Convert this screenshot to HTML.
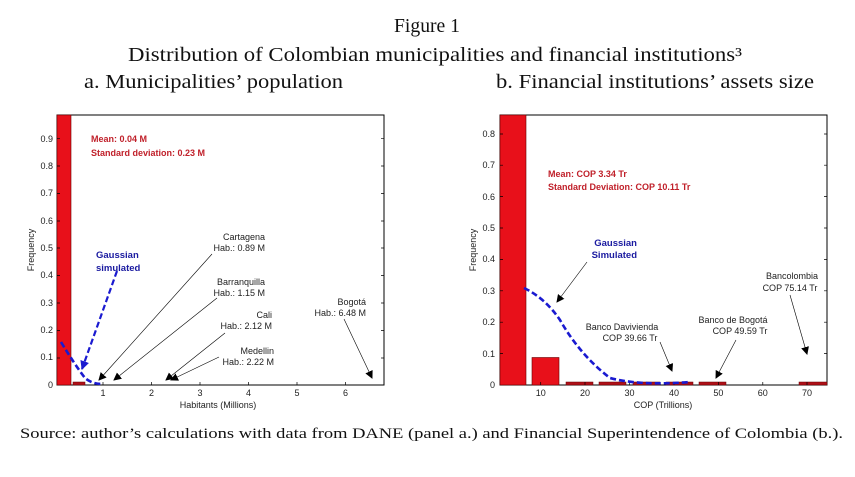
<!DOCTYPE html>
<html><head><meta charset="utf-8"><style>
html,body{margin:0;padding:0;background:#fff;}
svg{display:block;}
.t{font-family:"Liberation Serif",serif;fill:#111;}
.a{font-family:"Liberation Sans",sans-serif;font-size:9px;fill:#222;}
.r{font-family:"Liberation Sans",sans-serif;font-size:9px;font-weight:bold;fill:#c0202a;}
.b{font-family:"Liberation Sans",sans-serif;font-size:9.5px;font-weight:bold;fill:#1a1aa0;}
</style></head><body>
<svg width="855" height="477" viewBox="0 0 855 477" xmlns="http://www.w3.org/2000/svg">
<defs><marker id="ar" markerWidth="8" markerHeight="8" refX="7" refY="4" orient="auto" markerUnits="userSpaceOnUse"><path d="M0,0 L8,4 L0,8 Z" fill="#000"/></marker>
<marker id="ab" markerWidth="9" markerHeight="9" refX="8" refY="4.5" orient="auto" markerUnits="userSpaceOnUse"><path d="M0,0 L9,4.5 L0,9 Z" fill="#1a1ad0"/></marker></defs>
<text class="t" x="427" y="32" font-size="20" text-anchor="middle" textLength="66" lengthAdjust="spacingAndGlyphs">Figure 1</text>
<text class="t" x="128" y="61" font-size="20" textLength="614" lengthAdjust="spacingAndGlyphs">Distribution of Colombian municipalities and financial institutions³</text>
<text class="t" x="84" y="88" font-size="20" textLength="259" lengthAdjust="spacingAndGlyphs">a. Municipalities’ population</text>
<text class="t" x="496" y="88" font-size="20" textLength="318" lengthAdjust="spacingAndGlyphs">b. Financial institutions’ assets size</text>
<text class="t" x="20" y="438" font-size="15" textLength="823" lengthAdjust="spacingAndGlyphs">Source: author’s calculations with data from DANE (panel a.) and Financial Superintendence of Colombia (b.).</text>

<!-- Left panel -->
<g>
<rect x="57" y="115" width="327" height="270" fill="#fff" stroke="#000" stroke-width="1"/>
<rect x="57" y="115" width="14" height="270" fill="#e8101a" stroke="#600" stroke-width="0.6"/>
<rect x="73" y="382" width="12" height="3" fill="#b01018" stroke="#600" stroke-width="0.5"/>
<g class="a" text-anchor="end">
<text x="53" y="388">0</text><text x="53" y="360">0.1</text><text x="53" y="333">0.2</text><text x="53" y="306">0.3</text><text x="53" y="278">0.4</text><text x="53" y="251">0.5</text><text x="53" y="224">0.6</text><text x="53" y="196">0.7</text><text x="53" y="169">0.8</text><text x="53" y="142">0.9</text>
</g>
<g stroke="#000" stroke-width="0.7">
<path d="M57 358h3M57 330.5h3M57 303h3M57 275.5h3M57 248h3M57 221h3M57 193.5h3M57 166h3M57 138.7h3"/>
<path d="M384 358h-3M384 330.5h-3M384 303h-3M384 275.5h-3M384 248h-3M384 221h-3M384 193.5h-3M384 166h-3M384 138.7h-3"/>
<path d="M103 385v-3M151.5 385v-3M200 385v-3M248.5 385v-3M297 385v-3M345.5 385v-3"/>
</g>
<g class="a" text-anchor="middle">
<text x="103" y="396">1</text><text x="151.5" y="396">2</text><text x="200" y="396">3</text><text x="248.5" y="396">4</text><text x="297" y="396">5</text><text x="345.5" y="396">6</text>
<text x="218" y="408">Habitants (Millions)</text>
</g>
<text class="a" transform="translate(34,250) rotate(-90)" text-anchor="middle">Frequency</text>
<text class="r" x="91" y="142">Mean: 0.04 M</text>
<text class="r" x="91" y="156">Standard deviation: 0.23 M</text>
<path d="M61 342 Q75 365 85 378 Q92 384 102 384" fill="none" stroke="#1a1ad0" stroke-width="2.6" stroke-dasharray="6,3"/>
<path d="M117 271 L82 369" fill="none" stroke="#1a1ad0" stroke-width="2.2" stroke-dasharray="6,3" marker-end="url(#ab)"/>
<text class="b" x="96" y="258">Gaussian</text><text class="b" x="96" y="271">simulated</text>
<g class="a" text-anchor="end">
<text x="265" y="240">Cartagena</text><text x="265" y="251">Hab.: 0.89 M</text>
<text x="265" y="285">Barranquilla</text><text x="265" y="296">Hab.: 1.15 M</text>
<text x="272" y="318">Cali</text><text x="272" y="329">Hab.: 2.12 M</text>
<text x="274" y="354">Medellin</text><text x="274" y="365">Hab.: 2.22 M</text>
<text x="366" y="305">Bogotá</text><text x="366" y="316">Hab.: 6.48 M</text>
</g>
<g stroke="#000" stroke-width="0.6" fill="none">
<path d="M212 254 L99 380" marker-end="url(#ar)"/>
<path d="M217 298 L114 380" marker-end="url(#ar)"/>
<path d="M225 333 L166 380" marker-end="url(#ar)"/>
<path d="M219 357 L171 380" marker-end="url(#ar)"/>
<path d="M344 319 L372 378" marker-end="url(#ar)"/>
</g>
</g>

<!-- Right panel -->
<g>
<rect x="500" y="115" width="327" height="270" fill="#fff" stroke="#000" stroke-width="1"/>
<rect x="500" y="115" width="26" height="270" fill="#e8101a" stroke="#600" stroke-width="0.6"/>
<rect x="532" y="357.5" width="27" height="27.5" fill="#e8101a" stroke="#600" stroke-width="0.6"/>
<g fill="#b01018" stroke="#600" stroke-width="0.5">
<rect x="566" y="382" width="27" height="3"/><rect x="599" y="382" width="27" height="3"/><rect x="633" y="382" width="27" height="3"/><rect x="666" y="382" width="27" height="3"/><rect x="699" y="382" width="27" height="3"/><rect x="799" y="382" width="28" height="3"/>
</g>
<g class="a" text-anchor="end">
<text x="495" y="388">0</text><text x="495" y="357">0.1</text><text x="495" y="325">0.2</text><text x="495" y="294">0.3</text><text x="495" y="262">0.4</text><text x="495" y="231">0.5</text><text x="495" y="200">0.6</text><text x="495" y="168">0.7</text><text x="495" y="137">0.8</text>
</g>
<g stroke="#000" stroke-width="0.7">
<path d="M500 353.6h3M500 322.2h3M500 290.8h3M500 259.4h3M500 228h3M500 196.6h3M500 165.2h3M500 134h3"/>
<path d="M827 353.6h-3M827 322.2h-3M827 290.8h-3M827 259.4h-3M827 228h-3M827 196.6h-3M827 165.2h-3M827 134h-3"/>
<path d="M540.7 385v-3M585 385v-3M629.5 385v-3M674 385v-3M718.4 385v-3M762.8 385v-3M807 385v-3"/>
</g>
<g class="a" text-anchor="middle">
<text x="540.7" y="396">10</text><text x="585" y="396">20</text><text x="629.5" y="396">30</text><text x="674" y="396">40</text><text x="718.4" y="396">50</text><text x="762.8" y="396">60</text><text x="807" y="396">70</text>
<text x="663" y="408">COP (Trillions)</text>
</g>
<text class="a" transform="translate(476,250) rotate(-90)" text-anchor="middle">Frequency</text>
<text class="r" x="548" y="177">Mean: COP 3.34 Tr</text>
<text class="r" x="548" y="190">Standard Deviation: COP 10.11 Tr</text>
<path d="M524 288 Q545 298 560 320 Q580 355 610 378 Q640 386 690 382" fill="none" stroke="#1a1ad0" stroke-width="2.6" stroke-dasharray="6,3"/>
<text class="b" x="637" y="246" text-anchor="end">Gaussian</text><text class="b" x="637" y="258" text-anchor="end">Simulated</text>
<g stroke="#000" stroke-width="0.6" fill="none">
<path d="M587 262 L557 302" marker-end="url(#ar)"/>
<path d="M660 342 L672 371" marker-end="url(#ar)"/>
<path d="M736 340 L716 378" marker-end="url(#ar)"/>
<path d="M790 295 L807 354" marker-end="url(#ar)"/>
</g>
<g class="a" text-anchor="middle">
<text x="622" y="330">Banco Davivienda</text><text x="630" y="341">COP 39.66 Tr</text>
<text x="733" y="323">Banco de Bogotá</text><text x="740" y="334">COP 49.59 Tr</text>
<text x="792" y="279">Bancolombia</text><text x="790" y="291">COP 75.14 Tr</text>
</g>
</g>
</svg>
</body></html>
